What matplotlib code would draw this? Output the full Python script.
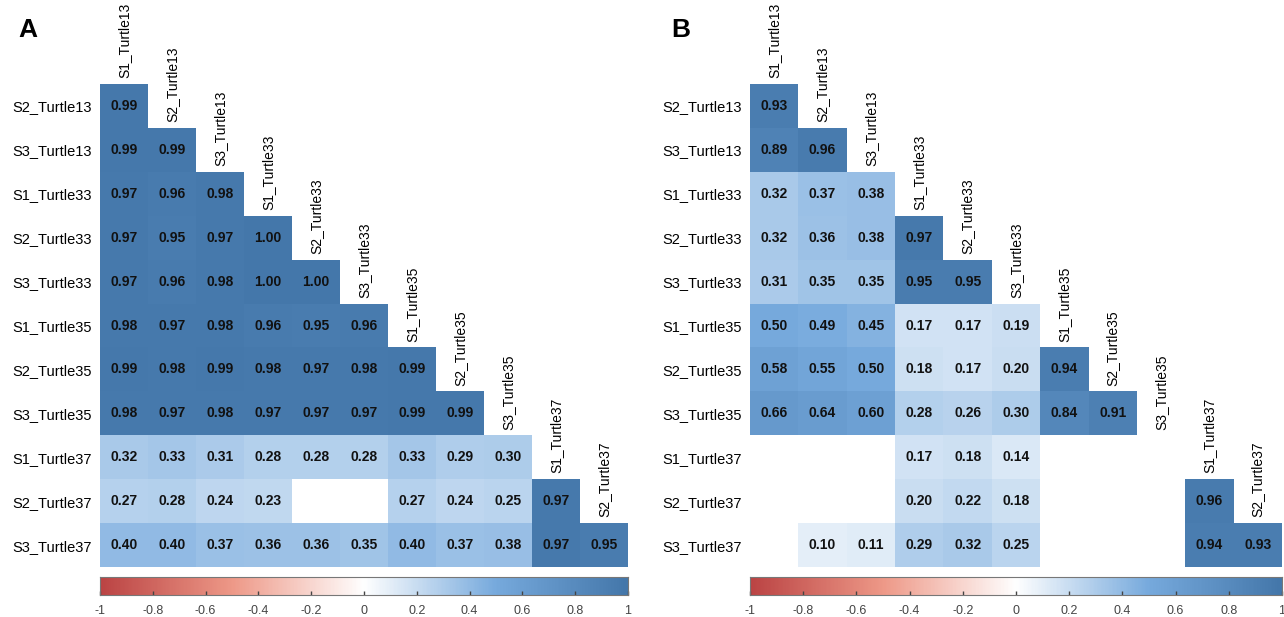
#!/usr/bin/env python3
# Two lower-triangle correlation heatmaps (corrplot style), panels A and B

import numpy as np
import matplotlib
matplotlib.use('Agg')
from matplotlib import pyplot as plt
from matplotlib.colors import LinearSegmentedColormap

plt.rcParams['font.family'] = ['Liberation Sans', 'DejaVu Sans']

col_labels = ['S1_Turtle13', 'S2_Turtle13', 'S3_Turtle13',
              'S1_Turtle33', 'S2_Turtle33', 'S3_Turtle33',
              'S1_Turtle35', 'S2_Turtle35', 'S3_Turtle35',
              'S1_Turtle37', 'S2_Turtle37']
row_labels = ['S2_Turtle13', 'S3_Turtle13',
              'S1_Turtle33', 'S2_Turtle33', 'S3_Turtle33',
              'S1_Turtle35', 'S2_Turtle35', 'S3_Turtle35',
              'S1_Turtle37', 'S2_Turtle37', 'S3_Turtle37']

# lower triangle rows, None = blank (not significant)
corr_a = [
    [0.99],
    [0.99, 0.99],
    [0.97, 0.96, 0.98],
    [0.97, 0.95, 0.97, 1.00],
    [0.97, 0.96, 0.98, 1.00, 1.00],
    [0.98, 0.97, 0.98, 0.96, 0.95, 0.96],
    [0.99, 0.98, 0.99, 0.98, 0.97, 0.98, 0.99],
    [0.98, 0.97, 0.98, 0.97, 0.97, 0.97, 0.99, 0.99],
    [0.32, 0.33, 0.31, 0.28, 0.28, 0.28, 0.33, 0.29, 0.30],
    [0.27, 0.28, 0.24, 0.23, None, None, 0.27, 0.24, 0.25, 0.97],
    [0.40, 0.40, 0.37, 0.36, 0.36, 0.35, 0.40, 0.37, 0.38, 0.97, 0.95],
]
corr_b = [
    [0.93],
    [0.89, 0.96],
    [0.32, 0.37, 0.38],
    [0.32, 0.36, 0.38, 0.97],
    [0.31, 0.35, 0.35, 0.95, 0.95],
    [0.50, 0.49, 0.45, 0.17, 0.17, 0.19],
    [0.58, 0.55, 0.50, 0.18, 0.17, 0.20, 0.94],
    [0.66, 0.64, 0.60, 0.28, 0.26, 0.30, 0.84, 0.91],
    [None, None, None, 0.17, 0.18, 0.14, None, None, None],
    [None, None, None, 0.20, 0.22, 0.18, None, None, None, 0.96],
    [None, 0.10, 0.11, 0.29, 0.32, 0.25, None, None, None, 0.94, 0.93],
]

cbar_ticks = [-1, -0.8, -0.6, -0.4, -0.2, 0, 0.2, 0.4, 0.6, 0.8, 1]

cmap = LinearSegmentedColormap.from_list(
    'corr', ['#BB4444', '#EE9988', '#FFFFFF', '#77AADD', '#4477AA'])

W, H = 1284, 617


def toMatrix(rows):
    n = len(rows)
    m = np.full((n, n), np.nan)
    for i, row in enumerate(rows):
        for j, v in enumerate(row):
            if v is not None:
                m[i, j] = v
    return m


def drawPanel(fig, rows, left, right, top, bottom, letter, letter_x):
    m = toMatrix(rows)
    n = m.shape[0]
    ax = fig.add_axes([left / W, 1 - bottom / H, (right - left) / W,
                       (bottom - top) / H])
    ax.pcolormesh(np.ma.masked_invalid(m), cmap=cmap, vmin=-1, vmax=1)
    ax.set_xlim(0, n)
    ax.set_ylim(n, 0)
    for s in ax.spines.values():
        s.set_visible(False)
    ax.set_xticks([])
    ax.set_yticks(np.arange(n) + 0.5)
    ax.set_yticklabels(row_labels, fontsize=10.5)
    ax.tick_params(axis='y', length=0, pad=6)

    for i in range(n):
        for j in range(i + 1):
            if not np.isnan(m[i, j]):
                ax.text(j + 0.5, i + 0.5, '%.2f' % m[i, j], ha='center',
                        va='center', fontsize=10, fontweight='bold',
                        color='#111111')
    for j, lab in enumerate(col_labels):
        ax.text(j + 0.5, j - 0.13, lab, rotation=90, ha='center',
                va='bottom', fontsize=10, clip_on=False)

    fig.text(letter_x / W, 1 - 30 / H, letter, fontsize=19,
             fontweight='bold', ha='left', va='center')

    # colour legend under the matrix
    cax = fig.add_axes([left / W, 1 - 595 / H, (right - left) / W, 18 / H])
    grad = np.linspace(-1, 1, 400).reshape(1, -1)
    cax.imshow(grad, cmap=cmap, vmin=-1, vmax=1, aspect='auto',
               extent=[-1, 1, 0, 1])
    cax.set_yticks([])
    cax.set_xticks(cbar_ticks)
    cax.set_xticklabels(['%g' % t for t in cbar_ticks], fontsize=9,
                        color='#444444')
    cax.tick_params(axis='x', direction='in', length=3, width=1,
                    color='#444444', pad=7)
    for s in cax.spines.values():
        s.set_color('#777777')
        s.set_linewidth(0.8)


def main():
    fig = plt.figure(figsize=(W / 100, H / 100), dpi=100)
    drawPanel(fig, corr_a, 100, 628, 84, 567, 'A', 18)
    drawPanel(fig, corr_b, 750, 1282, 84, 567, 'B', 671)
    fig.savefig('out.png', dpi=100, facecolor='white')


if __name__ == '__main__':
    main()
